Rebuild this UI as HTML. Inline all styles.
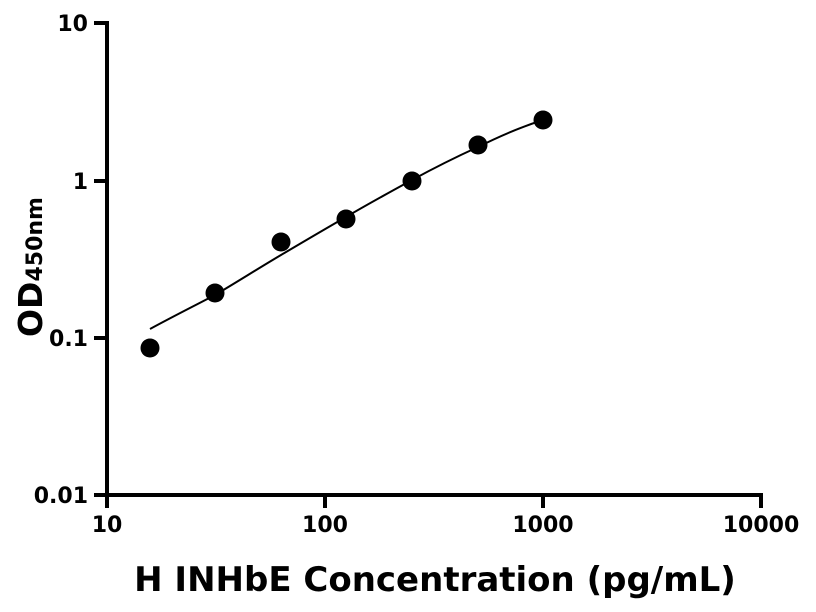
<!DOCTYPE html>
<html><head><style>body{margin:0;background:#fff}svg{display:block}</style></head><body>
<svg width="816" height="612" xmlns="http://www.w3.org/2000/svg" font-family="DejaVu Sans, sans-serif" font-weight="bold">
<g stroke="#000" stroke-width="4" fill="none">
<line x1="107" y1="21" x2="107" y2="497"/>
<line x1="105" y1="495" x2="763" y2="495"/>
<line x1="94" y1="23" x2="107" y2="23"/>
<line x1="94" y1="181" x2="107" y2="181"/>
<line x1="94" y1="338" x2="107" y2="338"/>
<line x1="94" y1="495" x2="107" y2="495"/>
<line x1="107" y1="495" x2="107" y2="508"/>
<line x1="325" y1="495" x2="325" y2="508"/>
<line x1="543" y1="495" x2="543" y2="508"/>
<line x1="761" y1="495" x2="761" y2="508"/>
</g>
<path d="M150,329 C172,317 194,306 215,295 C237,282 259,268 281,255 C303,242 325,229 346,217 C368,204 390,192 412,180 C434,168 456,157 478,147 C500,136 521,127 543,120" stroke="#000" stroke-width="2" fill="none"/>
<g fill="#000">
<circle cx="150" cy="348" r="9.5"/><circle cx="215" cy="293" r="9.5"/><circle cx="281" cy="242" r="9.5"/>
<circle cx="346" cy="219" r="9.5"/><circle cx="412" cy="181" r="9.5"/><circle cx="478" cy="145" r="9.5"/><circle cx="543" cy="120" r="9.5"/>
</g>
<g font-size="22" text-anchor="end">
<text x="88" y="31">10</text><text x="88" y="189">1</text><text x="88" y="346">0.1</text><text x="88" y="503">0.01</text>
</g>
<g font-size="22" text-anchor="middle">
<text x="107" y="532">10</text><text x="325" y="532">100</text><text x="543" y="532">1000</text><text x="761" y="532">10000</text>
</g>
<text x="435" y="591" font-size="34" text-anchor="middle">H INHbE Concentration (pg/mL)</text>
<text transform="translate(42,337) rotate(-90)" font-size="33">OD<tspan font-size="22">450nm</tspan></text>
</svg>
</body></html>
